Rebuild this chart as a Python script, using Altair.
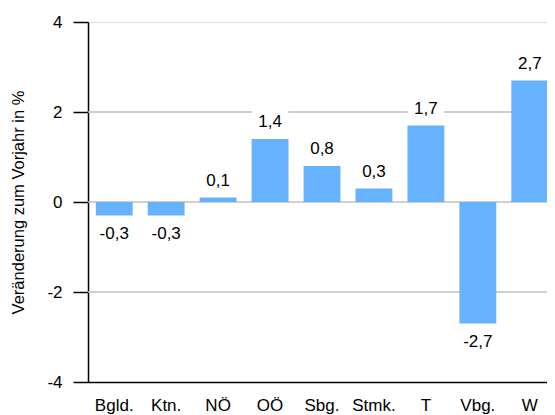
import altair as alt
import pandas as pd

regions = ["Bgld.", "Ktn.", "NÖ", "OÖ", "Sbg.", "Stmk.", "T", "Vbg.", "W"]
values = [-0.3, -0.3, 0.1, 1.4, 0.8, 0.3, 1.7, -2.7, 2.7]
labels = ["-0,3", "-0,3", "0,1", "1,4", "0,8", "0,3", "1,7", "-2,7", "2,7"]
grid_values = [-2, 0, 2]
y_ticks = [-4, -2, 0, 2, 4]

FONT = "Liberation Sans"
BAR = "#66b2ff"
FS = 17

df = pd.DataFrame({"region": regions, "value": values, "label": labels})
grid_df = pd.DataFrame({"g": grid_values})

yscale = alt.Scale(domain=[-4, 4], nice=False, zero=False)
xscale = alt.Scale(domain=regions, paddingInner=0.29, paddingOuter=0.15)

x_enc = alt.X(
    "region:N",
    sort=regions,
    scale=xscale,
    axis=alt.Axis(
        title=None, ticks=False, labelAngle=0, labelFontSize=FS, labelFont=FONT,
        labelColor="black", domainColor="black", domainWidth=1.5, labelPadding=15,
        grid=False,
    ),
)
y_axis = alt.Axis(
    values=y_ticks, grid=False, domainColor="black", domainWidth=1.5,
    tickColor="black", tickWidth=1.5, tickSize=15, labelPadding=11,
    labelFontSize=FS, labelFont=FONT, labelColor="black",
    labelExpr="datum.value + ''",
    title="Veränderung zum Vorjahr in %", titleFontSize=16.5, titleFont=FONT,
    titleFontWeight="normal", titleColor="black", titlePadding=20,
)

grid = alt.Chart(grid_df).mark_rule(color="#c0c0c0", strokeWidth=1.5).encode(
    y=alt.Y("g:Q", scale=yscale, axis=y_axis)
)

bars = alt.Chart(df).mark_bar(color=BAR).encode(
    x=x_enc,
    y=alt.Y("value:Q", scale=yscale),
    y2=alt.datum(0),
)

pos = alt.Chart(df).transform_filter("datum.value >= 0")
neg = alt.Chart(df).transform_filter("datum.value < 0")

box_pos = pos.mark_bar(color="white", width=36, yOffset=-28, y2Offset=-6).encode(
    x=alt.X("region:N", sort=regions, scale=xscale),
    y=alt.Y("value:Q", scale=yscale),
    y2="value:Q",
)
box_neg = neg.mark_bar(color="white", width=36, yOffset=7, y2Offset=29).encode(
    x=alt.X("region:N", sort=regions, scale=xscale),
    y=alt.Y("value:Q", scale=yscale),
    y2="value:Q",
)

txt_pos = pos.mark_text(dy=-17, baseline="middle", fontSize=FS, font=FONT, color="black").encode(
    x=alt.X("region:N", sort=regions, scale=xscale),
    y=alt.Y("value:Q", scale=yscale),
    text="label:N",
)
txt_neg = neg.mark_text(dy=18, baseline="middle", fontSize=FS, font=FONT, color="black").encode(
    x=alt.X("region:N", sort=regions, scale=xscale),
    y=alt.Y("value:Q", scale=yscale),
    text="label:N",
)

chart = alt.layer(grid, bars, box_pos, box_neg, txt_pos, txt_neg).properties(
    width=468,
    height=360,
    autosize=alt.AutoSizeParams(type="none"),
    padding={"left": 80, "top": 14, "right": -9, "bottom": 33},
).configure_view(stroke=None).configure(background="white")

chart.save("out.html", embed_options={"renderer": "svg", "actions": False})
